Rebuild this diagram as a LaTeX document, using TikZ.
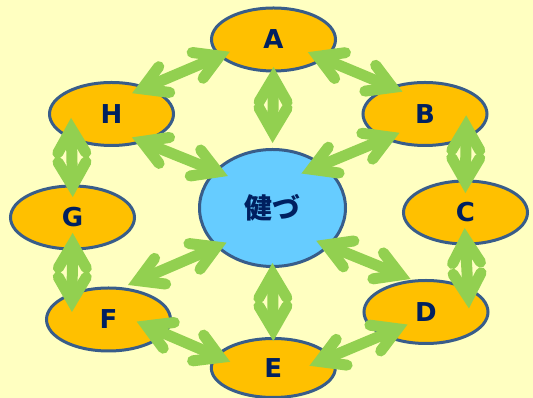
\documentclass[tikz,border=0pt]{standalone}
\usepackage{fontspec}
\usetikzlibrary{arrows.meta,shapes.geometric}

\newfontfamily\lblfont{DejaVu Sans}
\newfontfamily\cjkfont{Noto Sans CJK JP}

\definecolor{bgyellow}{HTML}{FFFFC1}
\definecolor{ovalgold}{HTML}{FFC000}
\definecolor{edgeblue}{HTML}{385D8A}
\definecolor{hubblue}{HTML}{66CCFF}
\definecolor{leafgreen}{HTML}{92D050}
\definecolor{navy}{HTML}{002060}

% Open chevron tip: two round-capped barbs meeting in a mitred point
\pgfdeclarearrow{
  name = RoundBarb,
  parameters = {\the\pgfarrowlength,\the\pgfarrowwidth},
  setup code = {
    % the mitred point of an 11pt stroke sticks out about 10.9pt past the corner
    \pgfarrowssettipend{10.9pt}
    \pgfarrowssetlineend{-9pt}
    \pgfarrowssetbackend{-\pgfarrowlength}
    \pgfarrowssavethe\pgfarrowlength
    \pgfarrowssavethe\pgfarrowwidth
  },
  drawing code = {
    \pgfsetroundcap
    \pgfsetmiterjoin
    \pgfpathmoveto{\pgfqpoint{-\pgfarrowlength}{.5\pgfarrowwidth}}
    \pgfpathlineto{\pgfqpoint{0pt}{0pt}}
    \pgfpathlineto{\pgfqpoint{-\pgfarrowlength}{-.5\pgfarrowwidth}}
    \pgfusepathqstroke
  },
  defaults = {length = 24pt, width = 28pt}
}

\begin{document}
\begin{tikzpicture}[x=1pt,y=1pt,
  oval/.style={ellipse, draw=edgeblue, line width=3pt, fill=ovalgold,
    minimum width=124pt, minimum height=63pt, inner sep=0pt, outer sep=0pt,
    text=navy, font=\lblfont\bfseries\fontsize{26}{30}\selectfont},
  hub/.style={oval, fill=hubblue, minimum width=146pt, minimum height=117pt,
    font=\cjkfont\bfseries\fontsize{28}{32}\selectfont},
  link/.style={draw=leafgreen, line width=11pt, arrows={RoundBarb-RoundBarb}}]

\fill[bgyellow] (0,0) rectangle (533,398);
\useasboundingbox (0,0) rectangle (533,398);

% outer ring
\node[oval] (A) at (273.5,358.5) {A};
\node[oval] (B) at (425,284) {B};
\node[oval] (C) at (465.5,185.5) {C};
\node[oval] (D) at (426,86) {D};
\node[oval, minimum height=59pt] (E) at (273.3,30) {E};
\node[oval] (F) at (108.5,78.5) {F};
\node[oval] (G) at (72.5,180.5) {G};
\node[oval] (H) at (111.5,284) {H};
% hub
\node[hub] (K) at (272.5,190) {健づ};

% ring links
\draw[link, shorten <=-14.3pt, shorten >=-10.2pt] (H.38.3) -- (A.197.3);
\draw[link, shorten <=-16.4pt, shorten >=-11.3pt] (A.339.1) -- (B.141.9);
\draw[link, shorten <=-22.3pt, shorten >=-12pt] (B.330.8) -- (C.north);
\draw[link, shorten <=-16pt, shorten >=-19.6pt] (C.south) -- (D.29.9);
\draw[link, shorten <=-23pt, shorten >=-26.4pt] (E.11.5) -- (D.208.3);
\draw[link, shorten <=-29.9pt, shorten >=-14.7pt] (F.346.4) -- (E.168.1);
\draw[link, shorten <=-16pt, shorten >=-18pt] (G.south) -- (F.145.1);
\draw[link, shorten <=-20.2pt, shorten >=-11pt] (H.211.4) -- (G.north);

% spokes to the hub
\draw[link, shorten <=-4pt, shorten >=6.5pt] (A.south) -- (K.north);
\draw[link, shorten <=-14.7pt, shorten >=-22.2pt] (B.212.2) -- (K.41.4);
\draw[link, shorten <=-13pt, shorten >=5.2pt] (K.326.8) -- (D.109.9);
\draw[link, shorten <=-3.5pt, shorten >=-2.5pt] (K.south) -- (E.north);
\draw[link, shorten <=-9.8pt, shorten >=9pt] (K.215.5) -- (F.70.1);
\draw[link, shorten <=-10.8pt, shorten >=-13pt] (H.318.9) -- (K.147.9);
\end{tikzpicture}
\end{document}
